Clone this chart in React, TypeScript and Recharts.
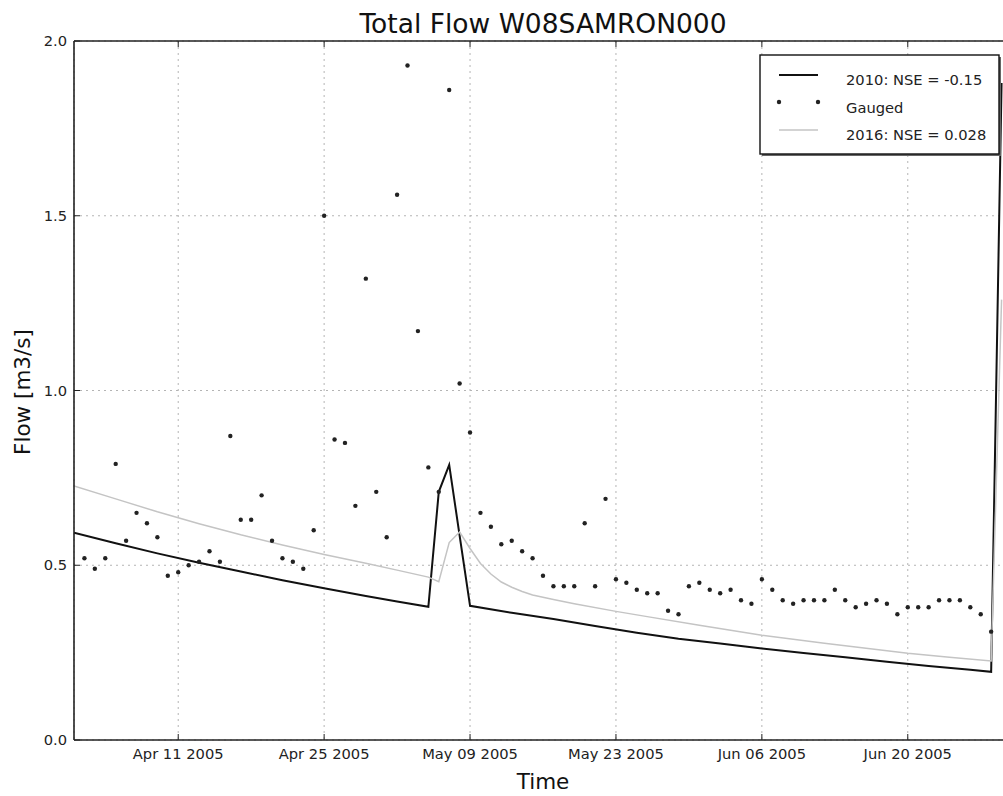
import React from 'react';
import { ComposedChart, Line, XAxis, YAxis, CartesianGrid } from 'recharts';

// x positions are day offsets from Apr 01 2005
const tickDays = [10, 24, 38, 52, 66, 80];
const tickLabels = ['Apr 11 2005', 'Apr 25 2005', 'May 09 2005', 'May 23 2005', 'Jun 06 2005', 'Jun 20 2005'];
const yTicks = [0, 0.5, 1.0, 1.5, 2.0];
const seriesNames = ['2010: NSE = -0.15', 'Gauged', '2016: NSE = 0.028'];

const days2010 = [0, 4, 8, 12, 16, 20, 24, 28, 31, 34, 35, 36, 37, 38, 42, 46, 50, 54, 58, 62, 66, 70, 74, 78, 82, 86, 88, 89];
const flow2010 = [0.593, 0.563, 0.534, 0.507, 0.482, 0.457, 0.434, 0.412, 0.396, 0.381, 0.71, 0.787, 0.585, 0.384, 0.364, 0.346, 0.326, 0.307, 0.290, 0.276, 0.262, 0.249, 0.237, 0.224, 0.212, 0.201, 0.195, 1.88];

const days2016 = [0, 4, 8, 12, 16, 20, 24, 28, 31, 34, 35, 36, 37, 38, 39, 40, 41, 42, 43, 44, 46, 48, 52, 55, 60, 66, 72, 80, 84, 88, 89];
const flow2016 = [0.727, 0.690, 0.653, 0.619, 0.587, 0.558, 0.531, 0.506, 0.486, 0.466, 0.453, 0.565, 0.595, 0.548, 0.505, 0.475, 0.452, 0.437, 0.425, 0.415, 0.402, 0.390, 0.368, 0.353, 0.328, 0.300, 0.277, 0.248, 0.237, 0.226, 1.26];

const gaugedStartDay = 1;
const gaugedFlow = [
  0.52, 0.49, 0.52, 0.79, 0.57, 0.65, 0.62, 0.58, 0.47, 0.48,
  0.50, 0.51, 0.54, 0.51, 0.87, 0.63, 0.63, 0.70, 0.57, 0.52,
  0.51, 0.49, 0.60, 1.50, 0.86, 0.85, 0.67, 1.32, 0.71, 0.58,
  1.56, 1.93, 1.17, 0.78, 0.71, 1.86, 1.02, 0.88, 0.65, 0.61,
  0.56, 0.57, 0.54, 0.52, 0.47, 0.44, 0.44, 0.44, 0.62, 0.44,
  0.69, 0.46, 0.45, 0.43, 0.42, 0.42, 0.37, 0.36, 0.44, 0.45,
  0.43, 0.42, 0.43, 0.40, 0.39, 0.46, 0.43, 0.40, 0.39, 0.40,
  0.40, 0.40, 0.43, 0.40, 0.38, 0.39, 0.40, 0.39, 0.36, 0.38,
  0.38, 0.38, 0.40, 0.40, 0.40, 0.38, 0.36, 0.31,
];

const lastDay = 89;
const rows: any[] = [];
for (let d = 0; d <= lastDay; d++) {
  const i1 = days2010.indexOf(d);
  const i2 = days2016.indexOf(d);
  const gi = d - gaugedStartDay;
  rows.push({
    day: d,
    m2010: i1 >= 0 ? flow2010[i1] : null,
    m2016: i2 >= 0 ? flow2016[i2] : null,
    gauged: gi >= 0 && gi < gaugedFlow.length ? gaugedFlow[gi] : null,
  });
}

const FONT = 'DejaVu Sans';
const tickStyle = { fontSize: 14.7, fill: '#222', fontFamily: FONT };

export default function App() {
  return (
    <div style={{ position: 'absolute', left: 0, top: 0, width: 1003, height: 796, overflow: 'hidden', background: '#fff' }}>
      <ComposedChart width={1015} height={796} data={rows} margin={{ top: 40, right: 3, bottom: 0, left: 0 }}>
        <CartesianGrid stroke="#b4b4b4" strokeDasharray="2 4" />
        <XAxis
          dataKey="day"
          type="number"
          domain={[0, 90]}
          ticks={tickDays}
          interval={0}
          allowDataOverflow
          height={56}
          tickFormatter={(v: number) => tickLabels[tickDays.indexOf(v)] ?? ''}
          tick={tickStyle}
          tickSize={-6}
          tickMargin={15}
          tickLine={{ stroke: '#222' }}
          axisLine={{ stroke: '#222', strokeWidth: 1.6 }}
        />
        <XAxis
          xAxisId="top"
          orientation="top"
          dataKey="day"
          type="number"
          domain={[0, 90]}
          ticks={tickDays}
          interval={0}
          height={1}
          tickFormatter={() => ''}
          tickSize={-6}
          tickLine={{ stroke: '#222' }}
          axisLine={{ stroke: '#222', strokeWidth: 1.6 }}
        />
        <YAxis
          type="number"
          domain={[0, 2]}
          ticks={yTicks}
          interval={0}
          allowDataOverflow
          width={74}
          tickFormatter={(v: number) => v.toFixed(1)}
          tick={tickStyle}
          tickSize={-6}
          tickMargin={13}
          tickLine={{ stroke: '#222' }}
          axisLine={{ stroke: '#222', strokeWidth: 1.6 }}
        />
        <Line
          dataKey="m2010"
          name={seriesNames[0]}
          type="linear"
          stroke="#111"
          strokeWidth={2}
          dot={false}
          connectNulls
          isAnimationActive={false}
        />
        <Line
          dataKey="gauged"
          name={seriesNames[1]}
          type="linear"
          stroke="none"
          dot={{ r: 2.2, fill: '#222', stroke: 'none' }}
          activeDot={false}
          isAnimationActive={false}
        />
        <Line
          dataKey="m2016"
          name={seriesNames[2]}
          type="linear"
          stroke="#c4c4c4"
          strokeWidth={1.5}
          dot={false}
          connectNulls
          isAnimationActive={false}
        />
      </ComposedChart>
      <svg width={1003} height={796} style={{ position: 'absolute', left: 0, top: 0, pointerEvents: 'none' }} fontFamily={FONT}>
        <text x={543} y={33} textAnchor="middle" fontSize={26.5} fill="#111">Total Flow W08SAMRON000</text>
        <text x={543} y={789} textAnchor="middle" fontSize={21.5} fill="#111">Time</text>
        <text x={30} y={392} textAnchor="middle" fontSize={21.5} fill="#111" transform="rotate(-90 30 392)">Flow [m3/s]</text>
        <g>
          <rect x={762} y={57} width={239} height={99} fill="#666" />
          <rect x={760} y={55} width={239} height={99} fill="#fff" stroke="#111" strokeWidth={1.4} />
          <line x1={779} x2={818} y1={75} y2={75} stroke="#111" strokeWidth={2} />
          <text x={846} y={79.5} dominantBaseline="central" fontSize={14.7} fill="#222">{seriesNames[0]}</text>
          <circle cx={779} cy={102} r={2.2} fill="#222" />
          <circle cx={818} cy={102} r={2.2} fill="#222" />
          <text x={846} y={107} dominantBaseline="central" fontSize={14.7} fill="#222">{seriesNames[1]}</text>
          <line x1={779} x2={818} y1={130} y2={130} stroke="#c4c4c4" strokeWidth={1.5} />
          <text x={846} y={134.5} dominantBaseline="central" fontSize={14.7} fill="#222">{seriesNames[2]}</text>
        </g>
      </svg>
    </div>
  );
}
